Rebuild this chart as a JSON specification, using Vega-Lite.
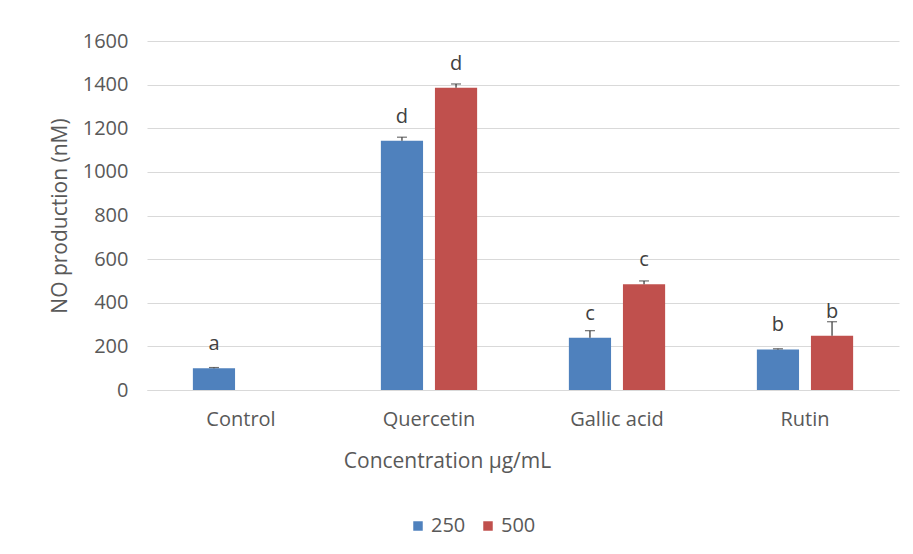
{
  "$schema": "https://vega.github.io/schema/vega-lite/v6.json",
  "width": 752,
  "height": 349,
  "autosize": {"type": "none"},
  "padding": {"left": 147, "top": 41, "right": 14, "bottom": 164},
  "background": "white",
  "config": {
    "view": {"stroke": null},
    "font": "Open Sans",
    "axis": {"labelColor": "#595959", "titleColor": "#595959", "labelFontWeight": "normal", "titleFontWeight": "normal"},
    "legend": {"labelColor": "#595959"}
  },
  "data": {
    "values": [
      {"compound": "Control", "conc": "250", "value": 100, "upper": 103, "letter": "a"},
      {"compound": "Quercetin", "conc": "250", "value": 1143, "upper": 1159, "letter": "d"},
      {"compound": "Quercetin", "conc": "500", "value": 1386, "upper": 1403, "letter": "d"},
      {"compound": "Gallic acid", "conc": "250", "value": 240, "upper": 272, "letter": "c"},
      {"compound": "Gallic acid", "conc": "500", "value": 485, "upper": 500, "letter": "c"},
      {"compound": "Rutin", "conc": "250", "value": 186, "upper": 189, "letter": "b"},
      {"compound": "Rutin", "conc": "500", "value": 249, "upper": 313, "letter": "b"}
    ]
  },
  "encoding": {
    "x": {
      "field": "compound",
      "type": "nominal",
      "sort": ["Control", "Quercetin", "Gallic acid", "Rutin"],
      "scale": {"paddingInner": 0.488, "paddingOuter": 0.244},
      "title": "Concentration µg/mL",
      "axis": {
        "labelAngle": 0,
        "labelFontSize": 20,
        "labelPadding": 19,
        "ticks": false,
        "tickSize": 0,
        "domainColor": "#d9d9d9",
        "titleFontSize": 21,
        "titlePadding": 21,
        "titleX": 300,
        "titleAlign": "center"
      }
    },
    "xOffset": {
      "field": "conc",
      "type": "nominal",
      "sort": ["250", "500"],
      "scale": {"paddingInner": 0.22, "paddingOuter": 0}
    }
  },
  "layer": [
    {
      "mark": {"type": "bar"},
      "encoding": {
        "y": {
          "field": "value",
          "type": "quantitative",
          "scale": {"domain": [0, 1600], "nice": false},
          "title": "NO production (nM)",
          "axis": {
            "values": [0, 200, 400, 600, 800, 1000, 1200, 1400, 1600],
            "format": "d",
            "domain": false,
            "ticks": false,
            "tickSize": 0,
            "labelFontSize": 20,
            "labelPadding": 19,
            "gridColor": "#d9d9d9",
            "titleFontSize": 21,
            "titlePadding": 12
          }
        },
        "color": {
          "field": "conc",
          "type": "nominal",
          "sort": ["250", "500"],
          "scale": {"domain": ["250", "500"], "range": ["#4f81bd", "#c0504d"]},
          "legend": {
            "title": null,
            "orient": "none",
            "direction": "horizontal",
            "legendX": 261,
            "legendY": 475,
            "symbolType": "square",
            "symbolSize": 90,
            "symbolStrokeWidth": 0,
            "labelFontSize": 20,
            "labelOffset": 3,
            "columnPadding": 12
          }
        }
      }
    },
    {
      "mark": {"type": "rule", "color": "#333333", "strokeWidth": 1.2},
      "encoding": {
        "y": {"field": "value", "type": "quantitative"},
        "y2": {"field": "upper"}
      }
    },
    {
      "mark": {"type": "tick", "color": "#333333", "thickness": 1.2, "size": 10},
      "encoding": {
        "y": {"field": "upper", "type": "quantitative"}
      }
    },
    {
      "mark": {"type": "text", "dy": -24, "fontSize": 20, "color": "#404040", "baseline": "middle"},
      "encoding": {
        "y": {"field": "value", "type": "quantitative"},
        "text": {"field": "letter"}
      }
    }
  ]
}
